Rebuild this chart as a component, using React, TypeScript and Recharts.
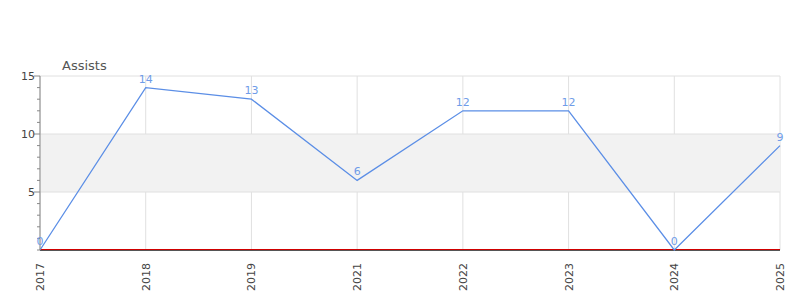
import React from 'react';
import { LineChart, Line, XAxis, YAxis, CartesianGrid, ReferenceArea, ReferenceLine, LabelList } from 'recharts';

const seasons = ['2017', '2018', '2019', '2021', '2022', '2023', '2024', '2025'];
const assists = [0, 14, 13, 6, 12, 12, 0, 9];
const yTicks = [0, 1, 2, 3, 4, 5, 6, 7, 8, 9, 10, 11, 12, 13, 14, 15];
const majorTicks = [5, 10, 15];

const data = seasons.map((season, i) => ({ season, assists: assists[i] }));

const FONT = '"DejaVu Sans", sans-serif';

const YTick = (props: any) => {
    const { x, y, payload } = props;
    const major = majorTicks.includes(payload.value);
    return (
        <g>
            <line x1={x - (major ? 6 : 3)} x2={x} y1={y} y2={y} stroke="#888" />
            {major && (
                <text x={x - 5} y={y + 4} textAnchor="end" fontSize={11} fill="#444" fontFamily={FONT}>
                    {payload.value}
                </text>
            )}
        </g>
    );
};

const XTick = (props: any) => {
    const { x, y, payload } = props;
    return (
        <text
            x={x + 4}
            y={y + 5}
            transform={`rotate(-90, ${x + 4}, ${y + 5})`}
            textAnchor="end"
            fontSize={11}
            fill="#444"
            fontFamily={FONT}
        >
            {payload.value}
        </text>
    );
};

// red zero line sits just above the dark axis line
const ZeroLine = (props: any) => {
    const { x1, x2, y1 } = props;
    return (
        <g>
            <line x1={x1} x2={x2} y1={y1 - 0.5} y2={y1 - 0.5} stroke="#d00000" strokeWidth={1} />
            <line x1={x1} x2={x2} y1={y1 + 0.5} y2={y1 + 0.5} stroke="#555" strokeWidth={1} />
        </g>
    );
};

const App = () => {
    return (
        <div style={{ position: 'absolute', left: 0, top: 0, width: 800, height: 300, fontFamily: FONT }}>
            <div style={{ position: 'absolute', left: 62, top: 58, fontSize: 13, color: '#555' }}>Assists</div>
            <LineChart width={800} height={300} data={data} margin={{ top: 76, right: 20, left: 0, bottom: 0 }}>
                <ReferenceArea y1={5} y2={10} fill="#f2f2f2" fillOpacity={1} stroke="none" />
                <CartesianGrid horizontal={false} stroke="#e0e0e0" />
                <ReferenceLine y={5} stroke="#e0e0e0" />
                <ReferenceLine y={10} stroke="#e0e0e0" />
                <ReferenceLine y={15} stroke="#e0e0e0" />
                <XAxis
                    dataKey="season"
                    height={50}
                    padding={{ left: 0, right: 0 }}
                    interval={0}
                    tickLine={false}
                    axisLine={false}
                    tick={<XTick />}
                />
                <YAxis
                    width={40}
                    domain={[0, 15]}
                    ticks={yTicks}
                    interval={0}
                    tickLine={false}
                    tickSize={0}
                    tickMargin={0}
                    axisLine={{ stroke: '#888' }}
                    tick={<YTick />}
                />
                <ReferenceLine y={0} shape={<ZeroLine />} />
                <Line
                    type="linear"
                    dataKey="assists"
                    stroke="#5b8ee6"
                    strokeWidth={1.3}
                    dot={false}
                    isAnimationActive={false}
                >
                    <LabelList dataKey="assists" position="top" offset={5} fontSize={11} fill="#6f9ce8" fontFamily={FONT} />
                </Line>
            </LineChart>
        </div>
    );
};

export default App;
